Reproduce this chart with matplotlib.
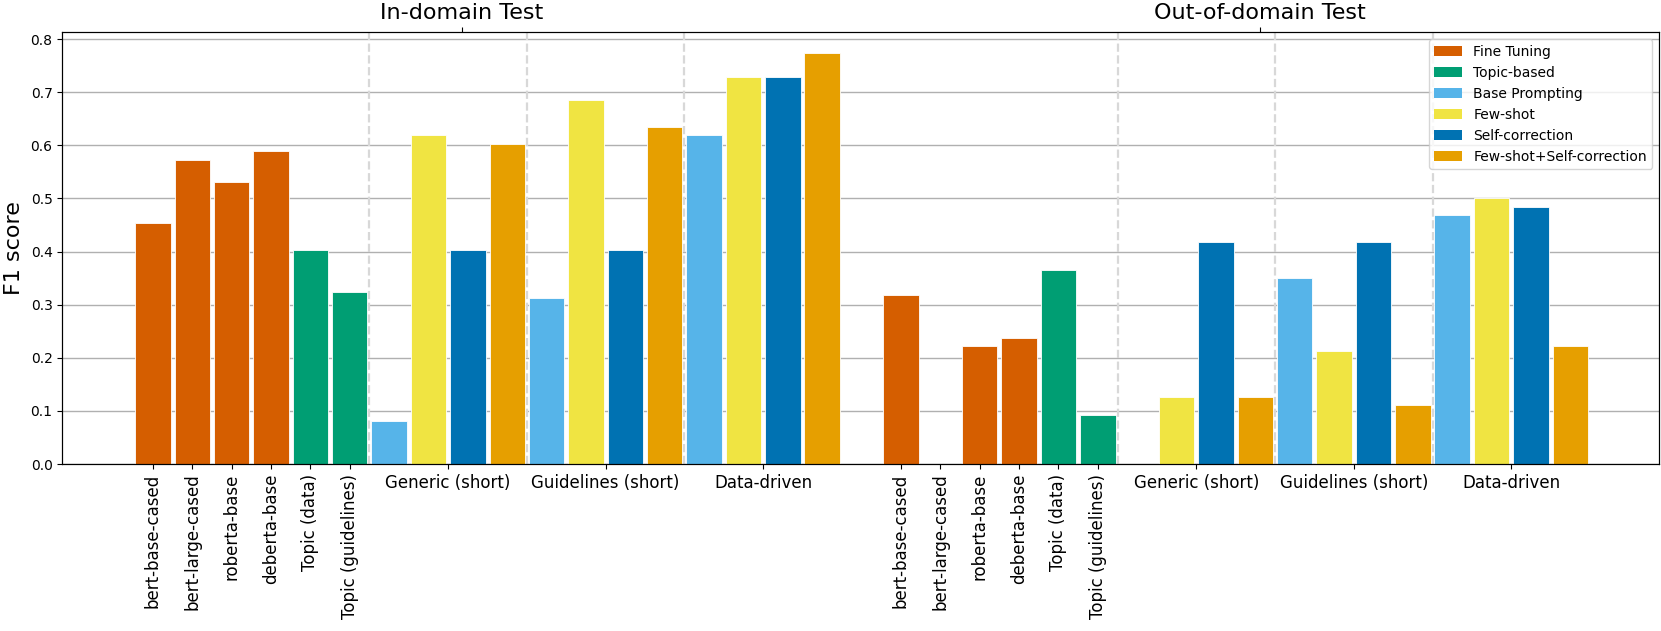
import matplotlib
matplotlib.use("Agg")
import matplotlib.pyplot as plt
from matplotlib.patches import Patch

# ---- data ----
ft_models = ['bert-base-cased', 'bert-large-cased', 'roberta-base', 'deberta-base']
topic_models = ['Topic (data)', 'Topic (guidelines)']
prompt_groups = ['Generic (short)', 'Guidelines (short)', 'Data-driven']
methods = ['Base Prompting', 'Few-shot', 'Self-correction', 'Few-shot+Self-correction']
blocks = ['In-domain Test', 'Out-of-domain Test']

in_ft = [0.454, 0.573, 0.531, 0.589]
in_topic = [0.402, 0.323]
in_bp = [0.081, 0.313, 0.619]
in_fs = [0.619, 0.686, 0.728]
in_sc = [0.402, 0.402, 0.728]
in_fssc = [0.602, 0.634, 0.774]

out_ft = [0.318, 0.0, 0.222, 0.237]
out_topic = [0.365, 0.092]
out_bp = [0.0, 0.350, 0.468]
out_fs = [0.126, 0.212, 0.501]
out_sc = [0.418, 0.418, 0.484]
out_fssc = [0.126, 0.111, 0.222]

legend_labels = ['Fine Tuning', 'Topic-based'] + methods
colors = {
    'Fine Tuning': '#D55E00',
    'Topic-based': '#009E73',
    'Base Prompting': '#56B4E9',
    'Few-shot': '#F0E442',
    'Self-correction': '#0072B2',
    'Few-shot+Self-correction': '#E69F00',
}

block_data = [
    (in_ft, in_topic, [in_bp, in_fs, in_sc, in_fssc]),
    (out_ft, out_topic, [out_bp, out_fs, out_sc, out_fssc]),
]

fig = plt.figure(figsize=(16.61, 6.31), dpi=100)
ax = fig.add_axes([62.3 / 1661, 1 - 464 / 631, (1659.3 - 62.3) / 1661, (464 - 32.3) / 631])
ax.set_axisbelow(True)
ax.grid(axis='y', color='#b0b0b0', linewidth=1.0)

W = 0.9
block_offsets = [0, 19]
ticks, tlabels, rot = [], [], []
for off, (ft, topic, meths) in zip(block_offsets, block_data):
    for i, v in enumerate(ft):
        ax.bar(off + i, v, width=W, color=colors['Fine Tuning'], edgecolor='white', linewidth=0.6, zorder=2)
        ticks.append(off + i); tlabels.append(ft_models[i]); rot.append(90)
    for i, v in enumerate(topic):
        ax.bar(off + 4 + i, v, width=W, color=colors['Topic-based'], edgecolor='white', linewidth=0.6, zorder=2)
        ticks.append(off + 4 + i); tlabels.append(topic_models[i]); rot.append(90)
    for g, gname in enumerate(prompt_groups):
        for m, mname in enumerate(methods):
            ax.bar(off + 6 + 4 * g + m, meths[m][g], width=W, color=colors[mname],
                   edgecolor='white', linewidth=0.6, zorder=2)
        ticks.append(off + 6 + 4 * g + 1.5); tlabels.append(gname); rot.append(0)
    for s in (5.5, 9.5, 13.5):
        ax.axvline(off + s, color='#d8d8d8', linestyle='--', linewidth=1.6, zorder=1)

ax.set_xticks(ticks)
ax.set_xticklabels(tlabels, fontsize=12)
for lab, r in zip(ax.get_xticklabels(), rot):
    lab.set_rotation(r)
ax.set_xlim(-2.3, 38.26)
ax.set_ylabel('F1 score', fontsize=16)
ax.yaxis.set_label_coords(-0.024, 0.5)

handles = [Patch(facecolor=colors[l], label=l) for l in legend_labels]
ax.legend(handles=handles, loc='upper right', fontsize=10)

ax2 = ax.twiny()
ax2.set_xlim(0, 1)
ax2.set_xticks([0.25, 0.75])
ax2.set_xticklabels(blocks, fontsize=16)

fig.savefig('out.png', dpi=100)
